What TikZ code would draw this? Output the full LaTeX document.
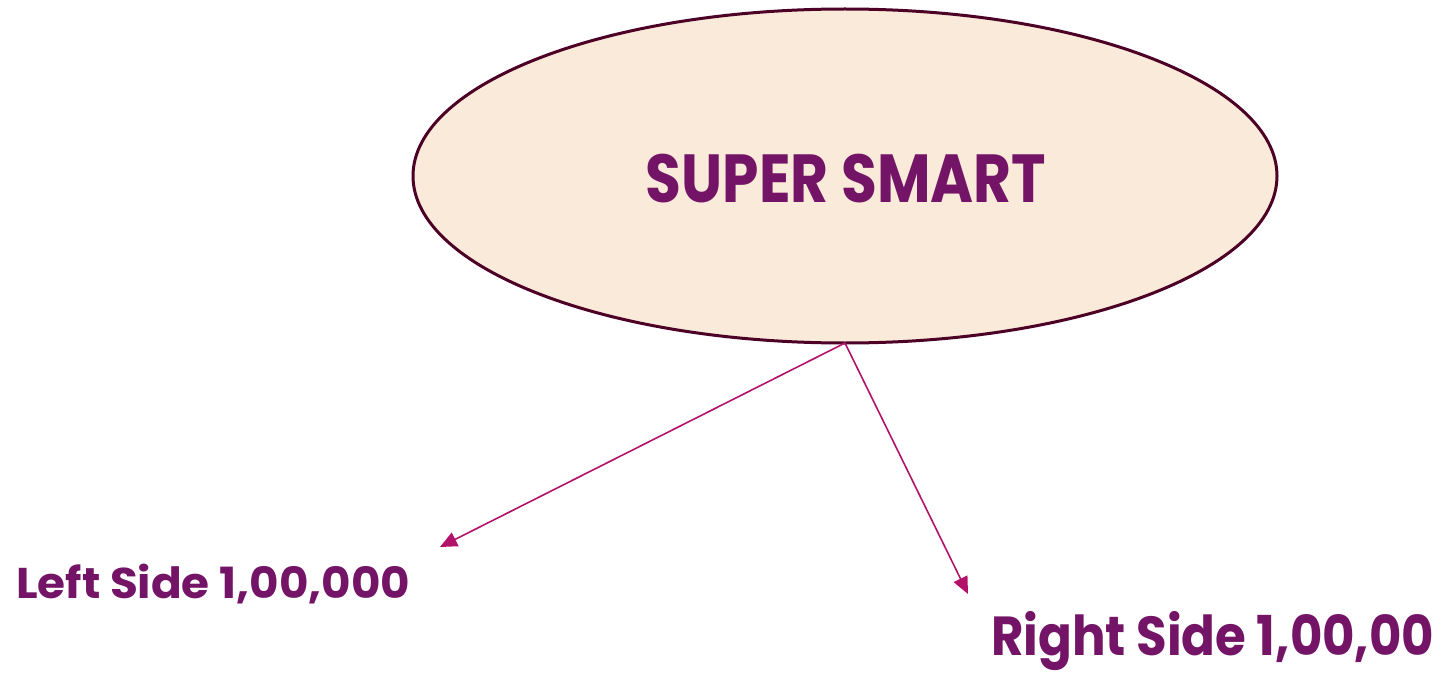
\documentclass[tikz,border=0pt]{standalone}
\usepackage{fontspec}
\usepackage{graphicx}
\setmainfont{Poppins}
\usetikzlibrary{arrows.meta,shapes.geometric}
\definecolor{ellfill}{HTML}{FAEAD9}
\definecolor{elldraw}{HTML}{4D0026}
\definecolor{txt}{HTML}{731466}
\definecolor{arr}{HTML}{B3126B}
\tikzset{
  lbl/.style={text=txt,inner sep=0pt},
  conn/.style={draw=arr,line width=1.6pt,-{Triangle[length=17pt,width=15pt]}}
}
\begin{document}
\begin{tikzpicture}[x=1pt,y=-1pt]
\useasboundingbox (0,0) rectangle (1441,674);
\node[ellipse,draw=elldraw,fill=ellfill,line width=3pt,minimum width=864pt,minimum height=334pt,inner sep=0pt] (e) at (845,176) {};
\node[lbl,anchor=base] (t) at (846,202) {\resizebox{400pt}{\height}{\bfseries\fontsize{68}{68}\selectfont SUPER SMART}};
\coordinate (o) at (845,343);
\node[lbl,anchor=base west] (l) at (16,598) {\resizebox{394pt}{\height}{\bfseries\fontsize{43}{43}\selectfont Left Side 1,00,000}};
\node[lbl,anchor=base west] (r) at (991,655) {\resizebox{443pt}{\height}{\bfseries\fontsize{55}{55}\selectfont Right Side 1,00,00}};
\coordinate (la) at (440,547);
\coordinate (ra) at (968,594);
\draw[conn] (o) -- (la);
\draw[conn] (o) -- (ra);
\end{tikzpicture}
\end{document}
